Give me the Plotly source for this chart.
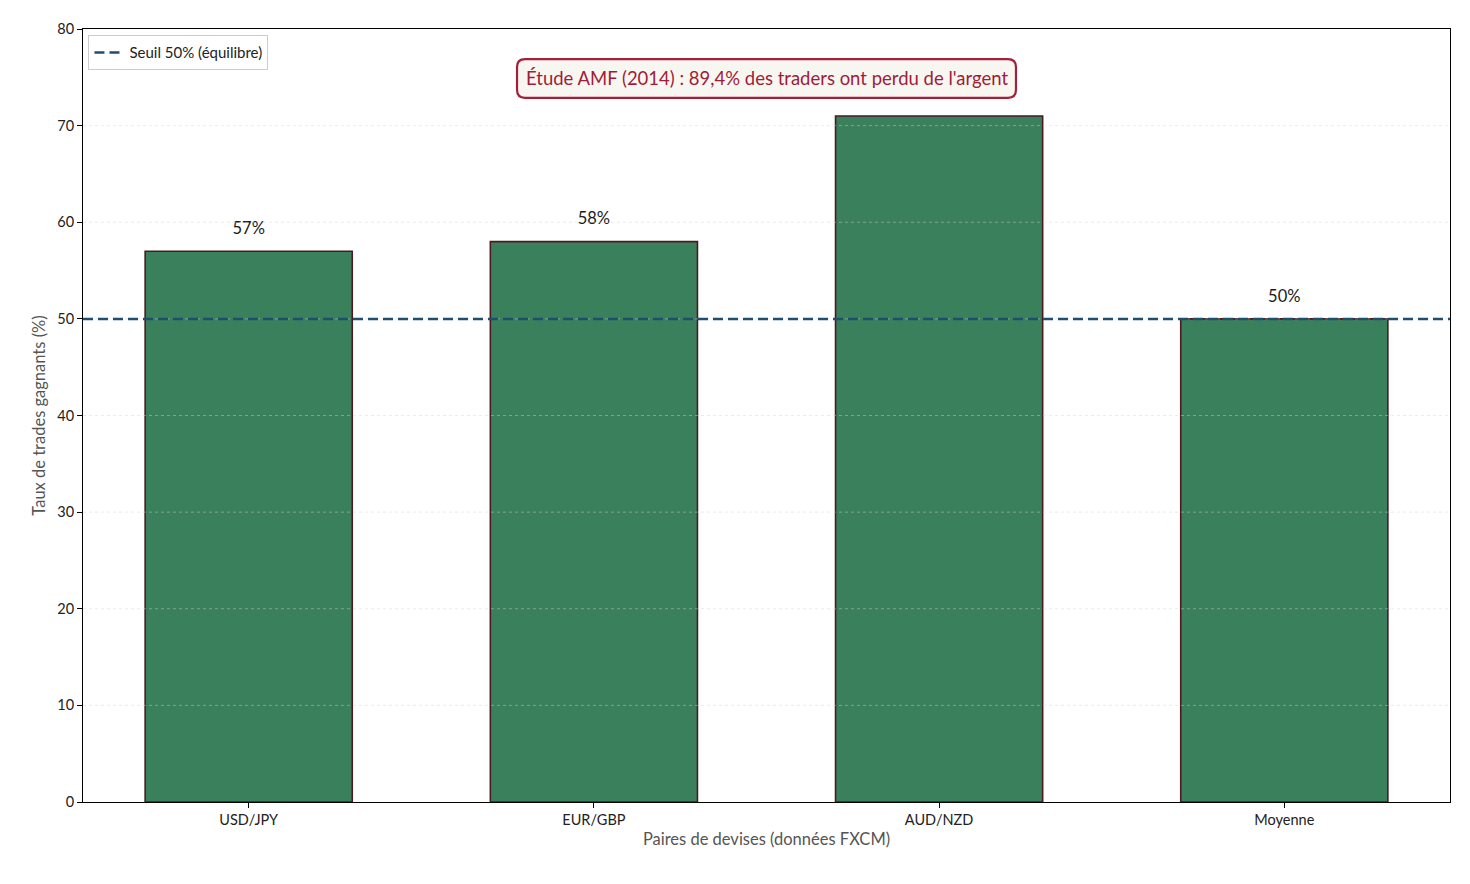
import plotly.graph_objects as go

# data
paires = ["USD/JPY", "EUR/GBP", "AUD/NZD", "Moyenne"]
taux_gagnants = [57, 58, 71, 50]
seuil = 50
y_ticks = [0, 10, 20, 30, 40, 50, 60, 70, 80]

font_name = "Lato"

fig = go.Figure()

# bars
fig.add_trace(go.Bar(
    x=paires,
    y=taux_gagnants,
    width=0.6,
    marker=dict(color="#3a805c", line=dict(color="#4a1a20", width=1.6)),
    showlegend=False,
    hoverinfo="skip",
))

# labels above bars (the one under the AMF box is hidden in the original)
fig.add_trace(go.Scatter(
    x=paires,
    y=[v + 2.2 for v in taux_gagnants],
    mode="text",
    text=[f"{v}%" if v < 70 else "" for v in taux_gagnants],
    textfont=dict(size=16.5, color="#1a1a1a", family=font_name),
    showlegend=False,
    hoverinfo="skip",
))

# dotted grid on top of bars
for t in y_ticks[1:-1]:
    fig.add_shape(type="line", xref="paper", x0=0, x1=1, yref="y", y0=t, y1=t,
                  line=dict(color="rgba(210,210,210,0.45)", width=1, dash="dot"),
                  layer="above")

# 50% threshold
fig.add_shape(type="line", xref="paper", x0=0, x1=1, yref="y", y0=seuil, y1=seuil,
              line=dict(color="#1f4e70", width=2.5, dash="10px,5px"),
              layer="above", showlegend=True, name="Seuil 50% (équilibre)")

# rounded box behind the AMF note
bx0, bx1, by0, by1 = 0.3175, 0.6825, 0.911, 0.961
rx, ry = 0.0058, 0.0103
box_path = (f"M {bx0+rx},{by0} L {bx1-rx},{by0} Q {bx1},{by0} {bx1},{by0+ry} "
            f"L {bx1},{by1-ry} Q {bx1},{by1} {bx1-rx},{by1} "
            f"L {bx0+rx},{by1} Q {bx0},{by1} {bx0},{by1-ry} "
            f"L {bx0},{by0+ry} Q {bx0},{by0} {bx0+rx},{by0} Z")
fig.add_shape(type="path", xref="paper", yref="paper", path=box_path,
              fillcolor="#f8f6f0", line=dict(color="#a31f3a", width=2.2),
              layer="above")

fig.add_annotation(
    xref="paper", yref="paper", x=0.5, y=0.936, yanchor="middle",
    text="Étude AMF (2014) : 89,4% des traders ont perdu de l'argent",
    showarrow=False,
    font=dict(size=18.5, color="#a01c38", family=font_name),
)

fig.update_layout(
    width=1454, height=868,
    paper_bgcolor="white",
    plot_bgcolor="white",
    margin=dict(l=75, r=12, t=21, b=74),
    font=dict(family=font_name, size=14.5, color="#222"),
    legend=dict(
        x=0.004, y=0.992, xanchor="left", yanchor="top",
        bgcolor="white", bordercolor="#cccccc", borderwidth=1,
        font=dict(size=15, color="#222"),
        tracegroupgap=0,
    ),
    xaxis=dict(
        range=[-0.48, 3.48],
        showline=True, linecolor="black", linewidth=1, mirror=True,
        ticks="outside", ticklen=5, tickcolor="black",
        showgrid=False,
        title=dict(text="Paires de devises (données FXCM)", font=dict(size=16.5, color="#555"), standoff=6),
    ),
    yaxis=dict(
        range=[0, 80],
        tickvals=y_ticks,
        showline=True, linecolor="black", linewidth=1, mirror=True,
        ticks="outside", ticklen=5, tickcolor="black",
        showgrid=False, zeroline=False,
        title=dict(text="Taux de trades gagnants (%)", font=dict(size=16.5, color="#555"), standoff=7),
    ),
)

fig.write_html("out.html")
